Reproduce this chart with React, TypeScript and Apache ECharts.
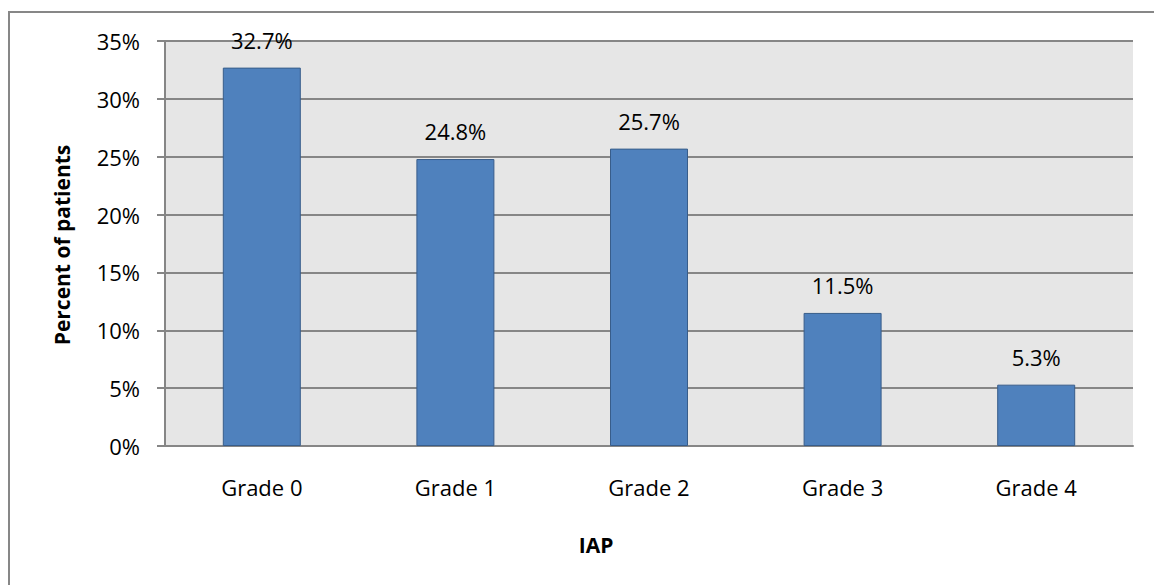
import React, { useEffect, useRef } from "react";
import * as echarts from "echarts";

const categories = ["Grade 0", "Grade 1", "Grade 2", "Grade 3", "Grade 4"];
const values = [32.7, 24.8, 25.7, 11.5, 5.3];
const yTicks = [0, 5, 10, 15, 20, 25, 30, 35];
const xTitle = "IAP";
const yTitle = "Percent of patients";

const FONT = "'Open Sans', 'Liberation Sans', sans-serif";

export default function App() {
  const ref = useRef<HTMLDivElement>(null);
  useEffect(() => {
    if (!ref.current) return;
    const chart = echarts.init(ref.current, undefined, { renderer: "svg" });
    chart.setOption({
      animation: false,
      backgroundColor: "#ffffff",
      textStyle: { fontFamily: FONT },
      grid: { left: 165, top: 41, right: 21, bottom: 139, show: true, backgroundColor: "#e6e6e6", borderWidth: 0 },
      xAxis: {
        type: "category",
        data: categories,
        axisLine: { show: true, lineStyle: { color: "#868686", width: 2 } },
        axisTick: { show: false },
        axisLabel: { color: "#000", fontSize: 22, fontFamily: FONT, margin: 30 },
      },
      yAxis: {
        type: "value",
        min: yTicks[0],
        max: yTicks[yTicks.length - 1],
        interval: 5,
        axisLine: { show: true, lineStyle: { color: "#868686", width: 2 } },
        axisTick: { show: true, length: 8, lineStyle: { color: "#868686", width: 2 } },
        splitLine: { show: true, lineStyle: { color: "#868686", width: 2 } },
        axisLabel: { color: "#000", fontSize: 22, fontFamily: FONT, margin: 25, formatter: (v: number) => v + "%" },
      },
      graphic: [
        {
          type: "rect",
          shape: { x: 9, y: 12, width: 1300, height: 700 },
          style: { fill: "none", stroke: "#878787", lineWidth: 2 },
          silent: true,
          z: 100,
        },
        {
          type: "text",
          x: 596,
          y: 545,
          style: { text: xTitle, font: `bold 21px ${FONT}`, fill: "#000", textAlign: "center", textVerticalAlign: "middle" },
        },
        {
          type: "text",
          x: 62,
          y: 245,
          rotation: Math.PI / 2,
          style: { text: yTitle, font: `bold 21px ${FONT}`, fill: "#000", textAlign: "center", textVerticalAlign: "middle" },
        },
      ],
      series: [
        {
          type: "bar",
          data: values,
          barWidth: 78,
          itemStyle: { color: "#4f81bd", borderColor: "#385d8a", borderWidth: 1 },
          label: {
            show: true,
            position: "top",
            distance: 17,
            color: "#000",
            fontSize: 22,
            fontFamily: FONT,
            formatter: (p: any) => p.value.toFixed(1) + "%",
          },
        },
      ],
    });
    return () => chart.dispose();
  }, []);
  return <div ref={ref} style={{ position: "absolute", left: 0, top: 0, width: 1154, height: 585 }} />;
}
